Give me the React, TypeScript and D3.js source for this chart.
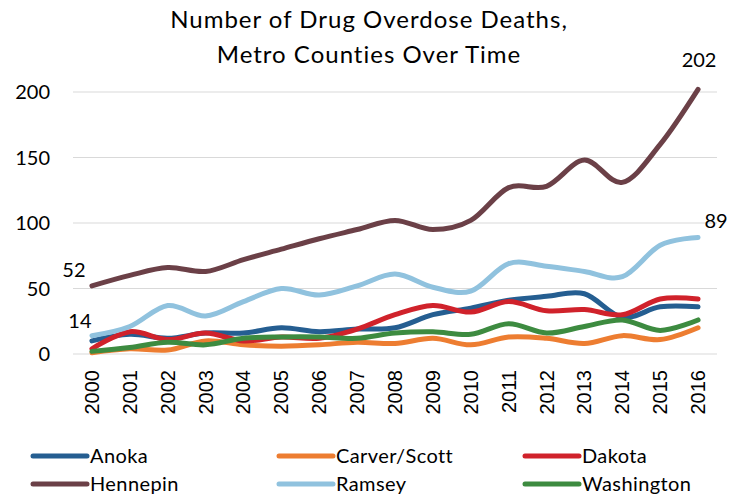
import React, { useEffect, useRef } from 'react';
import * as d3 from 'd3';

const width = 743;
const height = 496;

const years = ['2000', '2001', '2002', '2003', '2004', '2005', '2006', '2007', '2008',
    '2009', '2010', '2011', '2012', '2013', '2014', '2015', '2016'];
const yTicks = [0, 50, 100, 150, 200];

const anoka = [10, 15, 12, 16, 16, 20, 17, 19, 20, 30, 35, 41, 44, 46, 28, 36, 36];
const carverScott = [1, 4, 3, 10, 7, 6, 7, 9, 8, 12, 7, 13, 12, 8, 14, 11, 20];
const dakota = [4, 17, 11, 16, 10, 13, 12, 19, 30, 37, 32, 40, 33, 34, 30, 42, 42];
const hennepin = [52, 60, 66, 63, 72, 80, 88, 95, 102, 95, 102, 127, 128, 148, 131, 160, 202];
const ramsey = [14, 21, 37, 29, 40, 50, 45, 52, 61, 51, 48, 69, 67, 63, 59, 83, 89];
const washington = [2, 5, 9, 7, 12, 13, 13, 12, 16, 17, 15, 23, 16, 21, 26, 18, 26];

const seriesNames = ['Anoka', 'Carver/Scott', 'Dakota', 'Hennepin', 'Ramsey', 'Washington'];
const seriesValues = [anoka, carverScott, dakota, hennepin, ramsey, washington];
const seriesColors = ['#255e91', '#ed7d31', '#d0222b', '#6b4047', '#90c2de', '#3d8b40'];

const labelFont = 'Lato, "Open Sans", sans-serif';

const App = () => {
    const ref = useRef<SVGSVGElement | null>(null);

    useEffect(() => {
        const svg = d3.select(ref.current);
        svg.selectAll('*').remove();

        const x = d3.scaleBand().domain(years).range([73, 717]).padding(0);
        const cx = (yr: string) => (x(yr) as number) + x.bandwidth() / 2;
        const y = d3.scaleLinear().domain([0, 200]).range([354, 92]);

        // gridlines
        svg.append('g')
            .selectAll('line')
            .data(yTicks)
            .join('line')
            .attr('x1', 73)
            .attr('x2', 717)
            .attr('y1', d => y(d))
            .attr('y2', d => y(d))
            .attr('stroke', '#d9d9d9')
            .attr('stroke-width', 1);

        // y tick labels
        svg.append('g')
            .style('font', `20px ${labelFont}`)
            .attr('text-anchor', 'end')
            .selectAll('text')
            .data(yTicks)
            .join('text')
            .attr('x', 50)
            .attr('y', d => y(d))
            .attr('dy', '0.35em')
            .text(d => d);

        // x tick labels, rotated
        svg.append('g')
            .style('font', '20px "Liberation Sans", Arial, sans-serif')
            .attr('text-anchor', 'end')
            .selectAll('text')
            .data(years)
            .join('text')
            .attr('transform', d => `translate(${cx(d)},370) rotate(-90)`)
            .attr('dy', '0.35em')
            .text(d => d);

        // lines
        const line = d3.line<number>()
            .x((d, i) => cx(years[i]))
            .y(d => y(d))
            .curve(d3.curveCardinal.tension(0));

        svg.append('g')
            .selectAll('path')
            .data(seriesValues)
            .join('path')
            .attr('d', d => line(d))
            .attr('fill', 'none')
            .attr('stroke', (d, i) => seriesColors[i])
            .attr('stroke-width', 5)
            .attr('stroke-linecap', 'round')
            .attr('stroke-linejoin', 'round');

        // data labels at the ends
        const labels = [
            { v: hennepin[0], yr: years[0], dx: -18, dy: -9 },
            { v: ramsey[0], yr: years[0], dx: -12, dy: -8 },
            { v: hennepin[hennepin.length - 1], yr: years[years.length - 1], dx: 1, dy: -22 },
            { v: ramsey[ramsey.length - 1], yr: years[years.length - 1], dx: 18, dy: -9 },
        ];
        svg.append('g')
            .style('font', `20px ${labelFont}`)
            .attr('text-anchor', 'middle')
            .selectAll('text')
            .data(labels)
            .join('text')
            .attr('x', d => cx(d.yr) + d.dx)
            .attr('y', d => y(d.v) + d.dy)
            .text(d => d.v);

        // title
        svg.append('g')
            .style('font', `24px ${labelFont}`)
            .style('letter-spacing', '1px')
            .attr('text-anchor', 'middle')
            .selectAll('text')
            .data(['Number of Drug Overdose Deaths,', 'Metro Counties Over Time'])
            .join('text')
            .attr('x', 369)
            .attr('y', (d, i) => 28 + i * 35)
            .text(d => d);

        // legend
        const legendX = [33, 279, 525];
        const legend = svg.append('g')
            .selectAll('g')
            .data(seriesNames)
            .join('g')
            .attr('transform', (d, i) => `translate(${legendX[i % 3]},${456 + Math.floor(i / 3) * 28})`);
        legend.append('line')
            .attr('x1', 0)
            .attr('x2', 54)
            .attr('stroke', (d, i) => seriesColors[i])
            .attr('stroke-width', 5)
            .attr('stroke-linecap', 'round');
        legend.append('text')
            .attr('x', 57)
            .attr('dy', '0.35em')
            .style('font', `20px ${labelFont}`)
            .style('letter-spacing', '0.4px')
            .text(d => d);
    }, []);

    return (
        <svg ref={ref} width={width} height={height}
            style={{ position: 'absolute', left: 0, top: 0, background: '#fff' }} />
    );
};

export default App;
